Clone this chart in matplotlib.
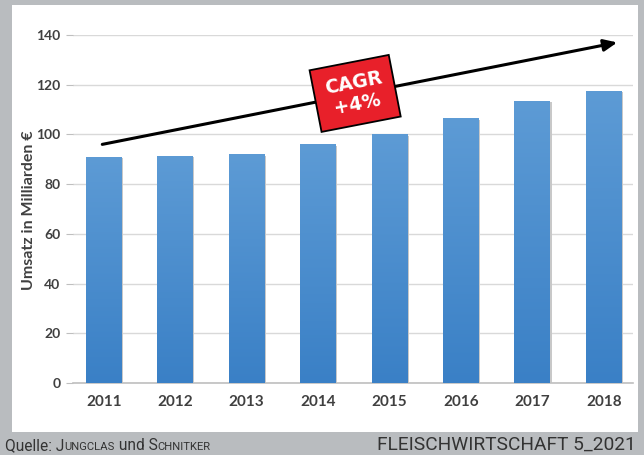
import numpy as np
import matplotlib.pyplot as plt
from matplotlib.patches import Rectangle
from matplotlib.colors import LinearSegmentedColormap

# data
years = ['2011', '2012', '2013', '2014', '2015', '2016', '2017', '2018']
umsatz = [91, 91.5, 92, 96, 100, 106.5, 113.5, 117.5]
yticks = [0, 20, 40, 60, 80, 100, 120, 140]

# CAGR arrow: from first year to beyond last year (data units)
arrow_start = (-0.02, 96)
arrow_end = (7.19, 137)
cagr_label = 'CAGR\n+4%'
cagr_pos = (3.52, 116.5)

quelle_parts = [('Quelle: J', 1.0), ('UNGCLAS', 0.72), (' und S', 1.0), ('CHNITKER', 0.72)]
credit = 'FLEISCHWIRTSCHAFT 5_2021'

grey_bg = '#b9bcbf'
txt = '#404040'
font = 'Lato'

fig = plt.figure(figsize=(6.44, 4.55), dpi=100)
fig.patch.set_facecolor(grey_bg)

# white panel
W, H = 644, 455
fig.patches.append(Rectangle((12 / W, 1 - 432 / H), 626 / W, 427 / H,
                             transform=fig.transFigure, facecolor='white',
                             edgecolor='none', zorder=-10))

ax = fig.add_axes([73 / W, 1 - 383 / H, 560 / W, 348 / H])
ax.set_facecolor('none')

x = np.arange(len(years))
bars = ax.bar(x, umsatz, width=0.5, color='#4a8dce', zorder=3, linewidth=0)

# vertical gradient on each bar
grad = np.linspace(0, 1, 256).reshape(-1, 1)
cmap = LinearSegmentedColormap.from_list('b', ['#3a80c6', '#5d9bd5'])
for b in bars:
    bx, by = b.get_x(), b.get_y()
    bw, bh = b.get_width(), b.get_height()
    # soft shadow
    ax.add_patch(Rectangle((bx + 0.02, by), bw, bh - 0.6, facecolor='#c8c8c8',
                           edgecolor='none', zorder=2))
    im = ax.imshow(grad, extent=[bx, bx + bw, by, by + bh], origin='lower',
                   cmap=cmap, aspect='auto', zorder=4)
    im.set_clip_path(b)

ax.set_xlim(-0.43, 7.41)
ax.set_ylim(0, 140)
ax.set_yticks(yticks)
ax.set_xticks(x)
ax.set_xticklabels(years)
ax.grid(axis='y', color='#d9d9d9', linewidth=1, zorder=0)
for s in ['top', 'right', 'left']:
    ax.spines[s].set_visible(False)
ax.spines['bottom'].set_color('#bfbfbf')
ax.spines['bottom'].set_linewidth(1.2)
ax.tick_params(axis='y', length=5, color='#bfbfbf', pad=4, labelsize=10,
               labelcolor=txt)
ax.tick_params(axis='x', length=0, pad=9, labelsize=11, labelcolor=txt)
for lab in ax.get_xticklabels() + ax.get_yticklabels():
    lab.set_fontfamily(font)
    lab.set_fontweight('bold')
ax.set_ylabel('Umsatz in Milliarden €', fontsize=11.5, fontweight='bold',
              color=txt, family=font)
ax.yaxis.set_label_coords((36 - 73) / 560, 0.495)

# CAGR arrow and box
ax.annotate('', xy=arrow_end, xytext=arrow_start,
            arrowprops=dict(arrowstyle='-|>,head_length=0.8,head_width=0.35',
                            color='black', lw=2.2, shrinkA=0, shrinkB=0),
            zorder=6, annotation_clip=False)
ax.text(*cagr_pos, cagr_label, ha='center', va='center', rotation=11,
        rotation_mode='anchor', fontsize=13.5, fontweight='bold',
        color='white', family='DejaVu Sans', linespacing=1.15, zorder=7,
        bbox=dict(boxstyle='square,pad=0.6', facecolor='#e8202a',
                  edgecolor='black', linewidth=1.3))

# footer
renderer = fig.canvas.get_renderer()
xpos = 5
for part, scale in quelle_parts:
    t = fig.text(xpos / W, 1 - 450 / H, part, fontsize=11.2 * scale,
                 color='#333333', family='Roboto', ha='left', va='baseline')
    xpos = t.get_window_extent(renderer).x1
fig.text(636 / W, 1 - 450 / H, credit, fontsize=13.8, color='#333333',
         family='Roboto', ha='right', va='baseline')

fig.savefig('out.png', dpi=100, facecolor=fig.get_facecolor())
